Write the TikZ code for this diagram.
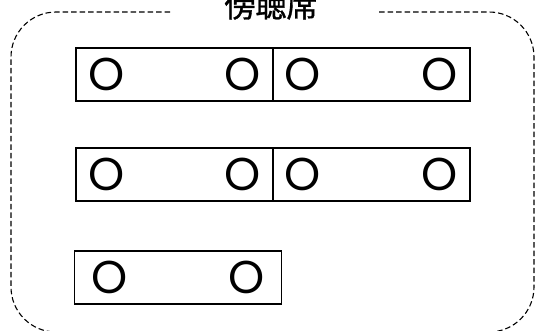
\documentclass[tikz,border=0pt]{standalone}
\usepackage{fontspec}
\setmainfont{Poppins}
\newfontfamily\jpfont[FakeBold=1.2]{Noto Sans CJK JP}
\usetikzlibrary{positioning}

\tikzset{
  desk/.style={draw, line width=1.4pt, minimum width=197pt, minimum height=53pt,
    inner sep=0pt, outer sep=0pt},
  seat/.style={inner sep=0pt, font=\fontsize{46}{46}\selectfont},
  hall/.style={draw, line width=1.1pt, dash pattern=on 5.5pt off 3pt,
    rounded corners=45pt},
  caption/.style={inner sep=0pt, anchor=base, font=\jpfont\fontsize{31}{31}\selectfont}
}

\begin{document}
\begin{tikzpicture}[x=1pt, y=-1pt]
  \useasboundingbox (0,0) rectangle (535,330);

  % Desks
  \node[desk]                   (d1) at (174.5,74.5) {};
  \node[desk, right=0pt of d1]  (d2) {};
  \node[desk, below=47pt of d1] (d3) {};
  \node[desk, right=0pt of d3]  (d4) {};
  \node[desk, minimum width=207pt, below right=50pt and -1.5pt of d3.south west] (d5) {};

  % Seats
  \foreach \d/\a/\b in {d1/31/167, d2/30/167, d3/31/167, d4/30/167, d5/35/172} {
    \node[seat] (\d-l) at ([xshift=\a pt]\d.west) {O};
    \node[seat] (\d-r) at ([xshift=\b pt]\d.west) {O};
  }

  % Title and border
  \node[caption] (title) at (271,17) {傍聴席};
  \coordinate (gl) at (170,12);
  \coordinate (gr) at (377,12);
  \draw[hall] (gl) -| (11,332) -| (534,12) -- (gr);

\end{tikzpicture}
\end{document}
